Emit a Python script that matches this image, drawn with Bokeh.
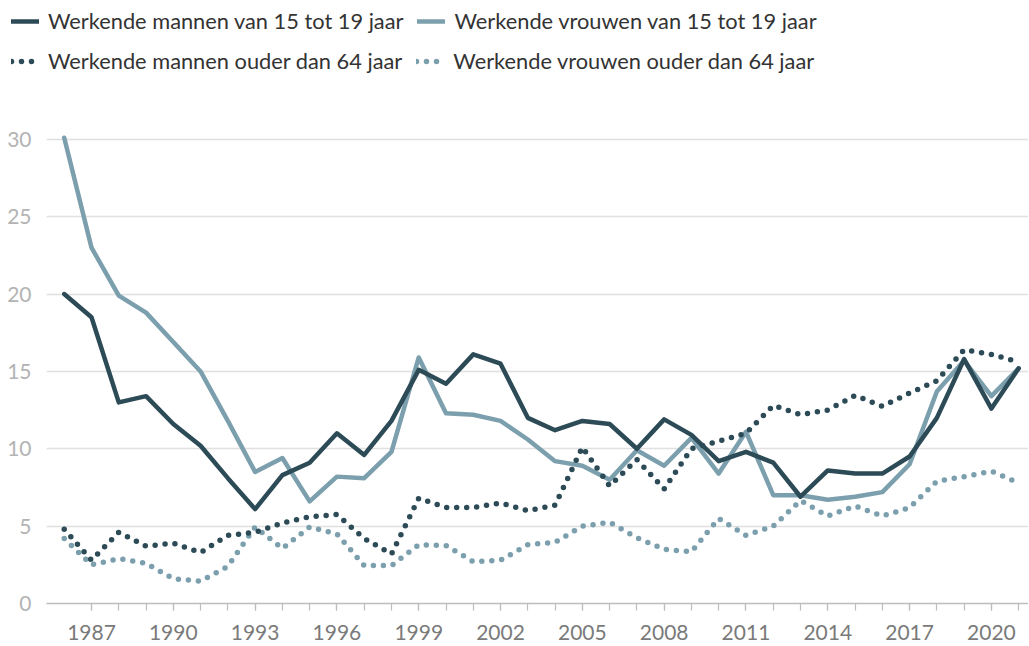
from bokeh.plotting import figure
from bokeh.models import Range1d, FixedTicker, Legend, LegendItem
from bokeh.layouts import column, row
from bokeh.embed import file_html
from bokeh.resources import INLINE

years = list(range(1986, 2022))

men_15_19 = [20.0, 18.5, 13.0, 13.4, 11.6, 10.2, 8.1, 6.1, 8.3, 9.1, 11.0, 9.6,
             11.8, 15.1, 14.2, 16.1, 15.5, 12.0, 11.2, 11.8, 11.6, 10.0, 11.9, 10.9,
             9.2, 9.8, 9.1, 6.9, 8.6, 8.4, 8.4, 9.5, 12.0, 15.8, 12.6, 15.2]
women_15_19 = [30.1, 23.0, 19.9, 18.8, 16.9, 15.0, 11.8, 8.5, 9.4, 6.6, 8.2, 8.1,
               9.8, 15.9, 12.3, 12.2, 11.8, 10.6, 9.2, 8.9, 8.0, 9.9, 8.9, 10.7,
               8.4, 11.1, 7.0, 7.0, 6.7, 6.9, 7.2, 9.0, 13.7, 15.7, 13.4, 15.2]
men_65plus = [4.8, 2.8, 4.6, 3.7, 3.9, 3.3, 4.4, 4.6, 5.2, 5.6, 5.75, 4.2,
              3.2, 6.8, 6.2, 6.2, 6.5, 6.0, 6.35, 10.1, 7.6, 9.3, 7.4, 10.0,
              10.5, 11.0, 12.8, 12.2, 12.5, 13.45, 12.75, 13.6, 14.4, 16.4, 16.1, 15.6]
women_65plus = [4.2, 2.5, 2.9, 2.6, 1.6, 1.45, 2.4, 4.95, 3.55, 4.95, 4.5, 2.45,
                2.45, 3.8, 3.75, 2.7, 2.8, 3.8, 3.95, 5.0, 5.25, 4.25, 3.5, 3.35,
                5.5, 4.4, 5.0, 6.65, 5.65, 6.3, 5.65, 6.2, 7.9, 8.2, 8.55, 7.8]

labels = ["Werkende mannen van 15 tot 19 jaar",
          "Werkende vrouwen van 15 tot 19 jaar",
          "Werkende mannen ouder dan 64 jaar",
          "Werkende vrouwen ouder dan 64 jaar"]

y_ticks = [0, 5, 10, 15, 20, 25, 30]
x_major = list(range(1987, 2021, 3))
x_minor = list(range(1987, 2022))

DARK = "#2c4b57"
LIGHT = "#7c9fae"
FONT = "Lato"

SOLID = dict(line_width=4.5, line_join="round", line_cap="round")
DOTTED = dict(line_width=5.5, line_dash="0 10", line_cap="round")

# ---------- legend strip (its own series sit outside the visible range) ----------
lf = figure(width=1028, height=100, output_backend="svg", toolbar_location=None,
            x_axis_location=None, y_axis_location=None,
            x_range=Range1d(1985.35, 2021.36), y_range=Range1d(100, 101),
            min_border_left=0, min_border_right=0, min_border_top=0,
            min_border_bottom=0)
lf.grid.visible = False
lf.outline_line_color = None
l_m = lf.line(years, men_15_19, line_color=DARK, **SOLID)
l_w = lf.line(years, women_15_19, line_color=LIGHT, **SOLID)
l_mo = lf.line(years, men_65plus, line_color=DARK, **DOTTED)
l_wo = lf.line(years, women_65plus, line_color=LIGHT, **DOTTED)


def make_legend(items, loc):
    return Legend(items=items, location=loc, orientation="horizontal",
                  label_text_font=FONT, label_text_font_size="21.8px",
                  label_text_color="#333333", label_standoff=9,
                  glyph_width=28, glyph_height=26, label_height=26,
                  spacing=14, padding=0, margin=0,
                  border_line_color=None, background_fill_alpha=0)


lf.add_layout(make_legend([LegendItem(label=labels[0], renderers=[l_m]),
                           LegendItem(label=labels[1], renderers=[l_w])], (11, 66)), "center")
lf.add_layout(make_legend([LegendItem(label=labels[2], renderers=[l_mo]),
                           LegendItem(label=labels[3], renderers=[l_wo])], (11, 26)), "center")

# ---------- main chart ----------
p = figure(width=1028, height=545, output_backend="svg", toolbar_location=None,
           x_range=Range1d(1985.35, 2021.36), y_range=Range1d(0, 32.51),
           min_border_left=46, min_border_right=0, min_border_top=0,
           min_border_bottom=42)
p.outline_line_color = None
p.background_fill_color = "white"
p.border_fill_color = "white"

p.xaxis.ticker = FixedTicker(ticks=x_major, minor_ticks=x_minor)
p.xaxis.axis_line_color = "#bdbdbd"
p.xaxis.axis_line_width = 1.5
p.xaxis.major_tick_out = 7
p.xaxis.major_tick_in = 0
p.xaxis.minor_tick_out = 7
p.xaxis.minor_tick_in = 0
p.xaxis.major_tick_line_color = "#bdbdbd"
p.xaxis.minor_tick_line_color = "#bdbdbd"
p.xaxis.major_tick_line_width = 1.2
p.xaxis.minor_tick_line_width = 1.2
p.xaxis.major_label_text_font = FONT
p.xaxis.major_label_text_font_size = "21px"
p.xaxis.major_label_text_color = "#7a7a7a"
p.xaxis.major_label_standoff = 14

p.yaxis.ticker = FixedTicker(ticks=y_ticks)
p.yaxis.axis_line_color = None
p.yaxis.major_tick_line_color = None
p.yaxis.minor_tick_line_color = None
p.yaxis.major_label_text_font = FONT
p.yaxis.major_label_text_font_size = "21px"
p.yaxis.major_label_text_color = "#b3b3b3"
p.yaxis.major_label_standoff = 9

p.xgrid.grid_line_color = None
p.ygrid.ticker = FixedTicker(ticks=y_ticks)
p.ygrid.grid_line_color = "#e0e0e0"
p.ygrid.grid_line_width = 1.5

p.line(years, women_15_19, line_color=LIGHT, **SOLID)
p.line(years, men_15_19, line_color=DARK, **SOLID)
p.line(years, women_65plus, line_color=LIGHT, **DOTTED)
p.line(years, men_65plus, line_color=DARK, **DOTTED)

layout = column(row(lf), p, spacing=0)
open("out.html", "w").write(file_html(layout, INLINE))
